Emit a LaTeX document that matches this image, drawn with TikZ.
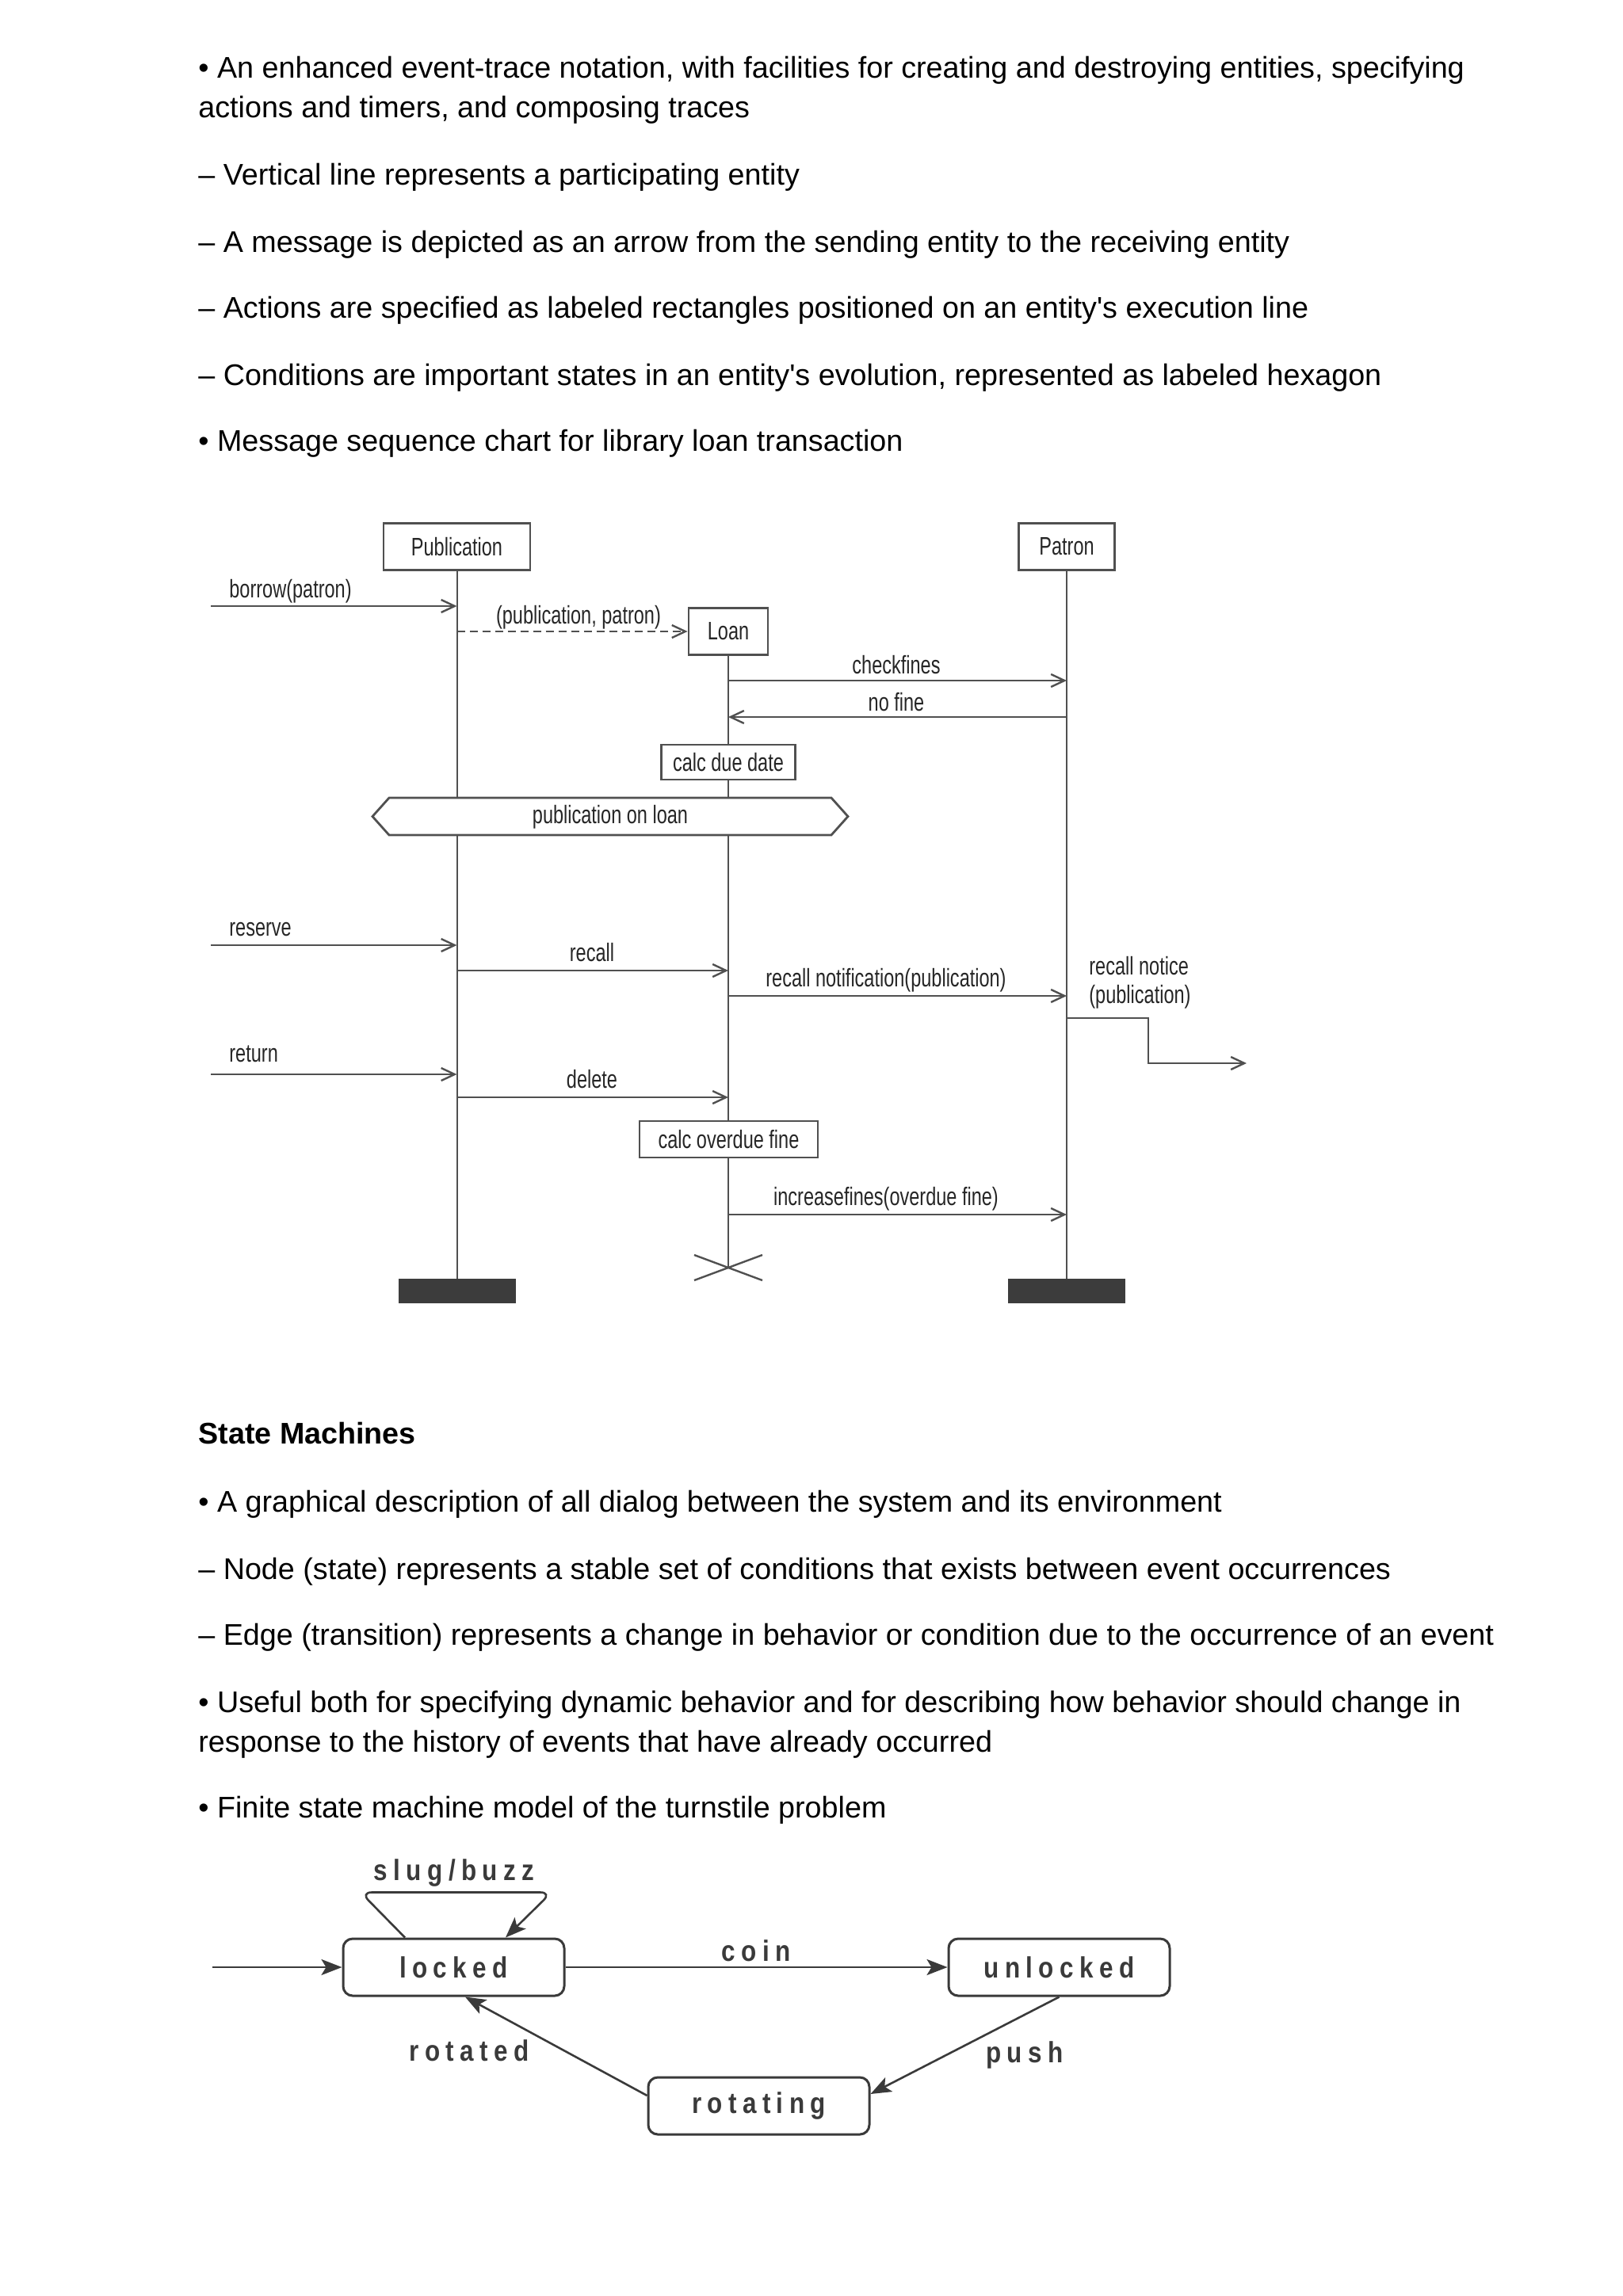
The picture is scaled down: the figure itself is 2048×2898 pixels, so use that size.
\documentclass[tikz,border=0pt]{standalone}
\usepackage{fontspec}
\setmainfont{Liberation Sans}
\newfontfamily\mscfont[FakeStretch=0.735]{Liberation Sans}
\newfontfamily\fsmfont[LetterSpace=20,FakeStretch=0.85]{Liberation Sans}
\usetikzlibrary{arrows.meta}
\pgfdeclarelayer{bg}
\pgfsetlayers{bg,main}
\definecolor{lc}{HTML}{505050}
\definecolor{sc}{HTML}{3A3A3A}
\definecolor{tc}{HTML}{262626}
\definecolor{barc}{HTML}{3C3C3C}
\begin{document}
\begin{tikzpicture}[x=0.5pt,y=-0.5pt,
  body/.style={anchor=base west,inner sep=0pt,font=\fontsize{18.85}{22}\selectfont},
  ent/.style={draw=lc,line width=1.4pt,fill=white,inner sep=0pt,minimum height=29.5pt,font=\mscfont\fontsize{16}{18}\selectfont,text=tc},
  act/.style={draw=lc,line width=1.4pt,fill=white,inner sep=0pt,font=\mscfont\fontsize{16}{18}\selectfont,text=tc},
  lbl/.style={inner sep=0pt,anchor=base,font=\mscfont\fontsize{16}{18}\selectfont,text=tc},
  life/.style={draw=lc,line width=1pt},
  msg/.style={draw=lc,line width=1.2pt,-{Straight Barb[length=8.5pt,width=8pt]}},
  bar/.style={fill=barc,inner sep=0pt,minimum width=74pt,minimum height=15.5pt},
  st/.style={draw=sc,line width=1.5pt,rounded corners=6pt,fill=white,minimum width=139.5pt,minimum height=36pt,inner sep=0pt,font=\fsmfont\bfseries\fontsize{18.5}{21}\selectfont,text=sc},
  tr/.style={draw=sc,line width=1.3pt,-{Stealth[length=13pt,width=10pt,inset=3pt]}},
  slbl/.style={inner sep=0pt,anchor=base,font=\fsmfont\bfseries\fontsize{18.5}{21}\selectfont,text=sc}
]
\useasboundingbox (0,0) rectangle (2048,2898);
\begin{pgfonlayer}{bg}
\fill[white] (0,0) rectangle (2048,2898);
\end{pgfonlayer}

% ---------- text block 1 ----------
\node[body] (t1) at (250,98) {• An enhanced event-trace notation, with facilities for creating and destroying entities, specifying};
\node[body] (t2) at (250,148) {actions and timers, and composing traces};
\node[body] (t3) at (250,233) {– Vertical line represents a participating entity};
\node[body] (t4) at (250,318) {– A message is depicted as an arrow from the sending entity to the receiving entity};
\node[body] (t5) at (250,401) {– Actions are specified as labeled rectangles positioned on an entity\textquotesingle s execution line};
\node[body] (t6) at (250,486) {– Conditions are important states in an entity\textquotesingle s evolution, represented as labeled hexagon};
\node[body] (t7) at (250,569) {• Message sequence chart for library loan transaction};

% ---------- message sequence chart ----------
\node[ent,minimum width=92.5pt] (pub) at (576.5,690) {Publication};
\node[ent,minimum width=60.5pt] (pat) at (1346,690) {Patron};
\node[ent,minimum width=50pt] (loan) at (919,797) {Loan};
\node[bar] (pubbar) at (576.5,1629.5) {};
\node[bar] (patbar) at (1346,1629.5) {};
\coordinate (lx) at (919,1600);

\begin{pgfonlayer}{bg}
\draw[life] (pub.south) -- (pubbar.north);
\draw[life] (pat.south) -- (patbar.north);
\draw[life] (loan.south) -- (lx);
\end{pgfonlayer}
\draw[lc,line width=1.2pt] ([shift={(-43,-16)}]lx) -- ([shift={(43,16)}]lx);
\draw[lc,line width=1.2pt] ([shift={(-43,16)}]lx) -- ([shift={(43,-16)}]lx);

\node[act,minimum width=84.5pt,minimum height=22pt] (cdd) at (919,962) {calc due date};
\node[act,minimum width=112.5pt,minimum height=23pt] (cof) at (919.5,1438) {calc overdue fine};

\draw[lc,line width=1.4pt,fill=white] (470,1030.5) -- (491,1007) -- (1049,1007) -- (1070,1030.5) -- (1049,1054) -- (491,1054) -- cycle;
\node[lbl,anchor=center] (cond) at (770,1031) {publication on loan};

% messages
\coordinate (b0) at (266,765);
\draw[msg] (b0) -- (b0 -| pub);
\node[lbl,anchor=base west] (lb0) at (289,754) {borrow(patron)};

\draw[msg,dash pattern=on 5pt off 3pt] (pub |- loan.west) -- (loan.west);
\node[lbl] (lpp) at (730,787) {(publication, patron)};

\coordinate (m1) at (919,859);
\draw[msg] (m1 -| loan) -- (m1 -| pat);
\node[lbl] (lm1) at (1131,850) {checkfines};

\coordinate (m2) at (919,905);
\draw[msg] (m2 -| pat) -- (m2 -| loan);
\node[lbl] (lm2) at (1131,897) {no fine};

\coordinate (r0) at (266,1193);
\draw[msg] (r0) -- (r0 -| pub);
\node[lbl,anchor=base west] (lr0) at (289,1181) {reserve};

\coordinate (m3) at (919,1225);
\draw[msg] (m3 -| pub) -- (m3 -| loan);
\node[lbl] (lm3) at (747,1213) {recall};

\coordinate (m4) at (919,1257);
\draw[msg] (m4 -| loan) -- (m4 -| pat);
\node[lbl] (lm4) at (1118,1245) {recall notification(publication)};

\node[lbl,anchor=base west] (rn1) at (1374,1230) {recall notice};
\node[lbl,anchor=base west] (rn2) at (1374,1266) {(publication)};
\coordinate (tk1) at (1449,1285);
\coordinate (tk2) at (1449,1342);
\coordinate (tend) at (1573,1342);
\draw[msg] (pat |- tk1) -- (tk1) -- (tk2) -- (tend);

\coordinate (r1) at (266,1356);
\draw[msg] (r1) -- (r1 -| pub);
\node[lbl,anchor=base west] (lr1) at (289,1340) {return};

\coordinate (m5) at (919,1385);
\draw[msg] (m5 -| pub) -- (m5 -| loan);
\node[lbl] (lm5) at (747,1373) {delete};

\coordinate (m6) at (919,1533);
\draw[msg] (m6 -| loan) -- (m6 -| pat);
\node[lbl] (lm6) at (1118,1521) {increasefines(overdue fine)};

% ---------- text block 2 ----------
\node[body,font=\bfseries\fontsize{18.85}{22}\selectfont] (h2) at (250,1822) {State Machines};
\node[body] (u1) at (250,1908) {• A graphical description of all dialog between the system and its environment};
\node[body] (u2) at (250,1993) {– Node (state) represents a stable set of conditions that exists between event occurrences};
\node[body] (u3) at (250,2076) {– Edge (transition) represents a change in behavior or condition due to the occurrence of an event};
\node[body] (u4) at (250,2161) {• Useful both for specifying dynamic behavior and for describing how behavior should change in};
\node[body] (u5) at (250,2211) {response to the history of events that have already occurred};
\node[body] (u6) at (250,2294) {• Finite state machine model of the turnstile problem};

% ---------- state machine ----------
\node[st] (locked) at (572.5,2483) {locked};
\node[st] (unlocked) at (1336.5,2483) {unlocked};
\node[st] (rotating) at (957.5,2658) {rotating};
\coordinate (init) at (268,2483);
\draw[tr] (init) -- (locked);
\draw[tr] (locked) -- (unlocked);
\node[slbl] (lcoin) at (954,2475) {coin};
\draw[tr,rounded corners=7pt] ([shift={(-61.5,0)}]locked.north) -- ([shift={(-117.5,-57)}]locked.north) -- ([shift={(123.5,-57)}]locked.north) -- ([shift={(65.5,0)}]locked.north);
\node[slbl] (lslug) at (573,2373) {slug/buzz};
\draw[tr] ([shift={(0,-13)}]rotating.west) -- ([shift={(14.5,0)}]locked.south);
\node[slbl] (lrot) at (592,2601) {rotated};
\draw[tr] (unlocked.south) -- ([shift={(0,-15)}]rotating.east);
\node[slbl] (lpush) at (1293,2603) {push};
\end{tikzpicture}
\end{document}
